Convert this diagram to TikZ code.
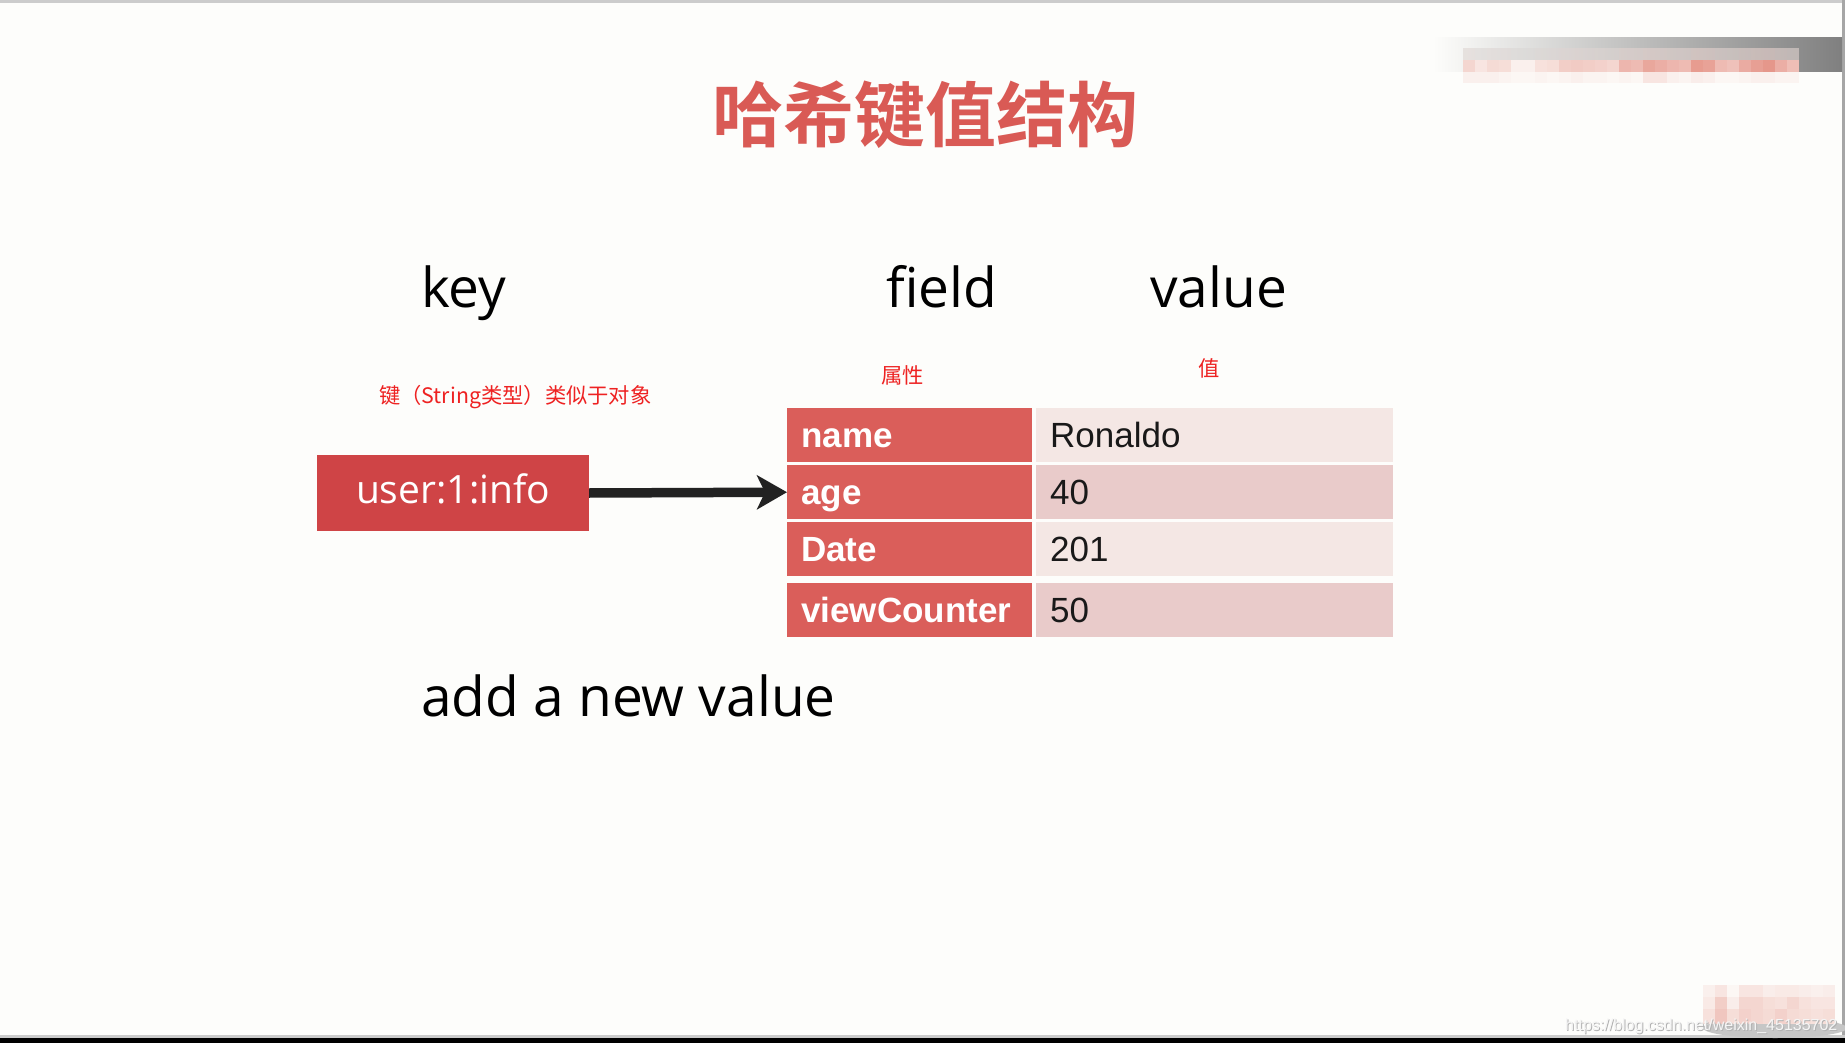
\documentclass[tikz,border=0pt]{standalone}
\usepackage{fontspec}
\setmainfont{Open Sans}
\newfontfamily\cjk{Noto Sans CJK SC}
\newfontfamily\cjkb{Noto Sans CJK SC Bold}
\newfontfamily\arialf{Liberation Sans}
\usetikzlibrary{arrows.meta}
\definecolor{bgc}{HTML}{FDFDFB}
\definecolor{titlered}{HTML}{D95A55}
\definecolor{keyred}{HTML}{CF4446}
\definecolor{fieldred}{HTML}{DA5E5A}
\definecolor{vallight}{HTML}{F4E7E4}
\definecolor{valdark}{HTML}{E9CBCA}
\definecolor{notered}{HTML}{EE2222}
\definecolor{arrowblack}{HTML}{222222}
\definecolor{pixred}{HTML}{D9604F}
\tikzset{
  heading/.style={anchor=base west, inner sep=0pt, font=\fontsize{55}{60}\selectfont, text=black},
  note/.style={anchor=west, inner sep=0pt, font=\cjk\fontsize{21.3}{24}\selectfont, text=notered},
  fieldcell/.style={anchor=north west, fill=fieldred, text=white, inner xsep=14pt, inner ysep=0pt,
    text height=25pt, text depth=0pt, align=left, text width=217pt, minimum height=54pt,
    font=\arialf\bfseries\fontsize{35}{40}\selectfont},
  valcell/.style={anchor=north west, text=black!90, inner xsep=14pt, inner ysep=0pt,
    text height=25pt, text depth=0pt, align=left, text width=329pt, minimum height=54pt,
    font=\arialf\fontsize{35}{40}\selectfont},
}
\begin{document}
\begin{tikzpicture}[x=1pt,y=-1pt]
\useasboundingbox (0,0) rectangle (1845,1043);
\fill[bgc] (0,0) rectangle (1845,1043);
% frame
\fill[gray!40] (0,0) rectangle (1845,3);
\fill[gray!70] (1842,0) rectangle (1845,1043);
\fill[gray!40] (0,1035) rectangle (1845,1038);
\fill[black] (0,1038) rectangle (1845,1043);
% top-right blurred watermark
\shade[left color=bgc, right color=black!50] (1433,38) rectangle (1842,72);
\foreach \i/\a/\b in {0/25/8,1/15/8,2/22/8,3/20/6,4/8/4,5/8/4,6/18/6,7/20/4,8/30/6,9/32/8,10/30/6,11/28/6,12/25/4,13/45/6,14/42/4,15/55/15,16/50/15,17/45/8,18/42/6,19/62/10,20/58/8,21/42/4,22/38/4,23/52/6,24/60/8,25/65/8,26/50/6,27/40/6}{
  \fill[pixred!\a!bgc] (1463+12*\i,60) rectangle (1475+12*\i,72);
  \fill[pixred!\b!bgc] (1463+12*\i,72) rectangle (1475+12*\i,83);
  \fill[pixred!\a!gray!30!bgc, opacity=0.6] (1463+12*\i,48) rectangle (1475+12*\i,60);
}
% bottom-right blurred watermark
\fill[gray!45] (1775,1028) ellipse [x radius=72pt, y radius=10pt];
\foreach \i/\a/\b/\c in {0/8/12/18,1/15/30/35,2/4/10/20,3/15/25/28,4/15/25/25,5/10/20/22,6/12/18/28,7/12/25/22,8/10/18/20,9/8/15/18,10/10/15/20}{
  \fill[pixred!\a!bgc] (1703+12*\i,985) rectangle (1715+12*\i,997);
  \fill[pixred!\b!bgc] (1703+12*\i,997) rectangle (1715+12*\i,1009);
  \fill[pixred!\c!bgc] (1703+12*\i,1009) rectangle (1715+12*\i,1024);
}
\node[anchor=base west, inner sep=0pt, font=\arialf\fontsize{16}{18}\selectfont, text=gray!60] (wmshadow) at (1566,1031) {https://blog.csdn.net/weixin\_45135702};
\node[anchor=base west, inner sep=0pt, font=\arialf\fontsize{16}{18}\selectfont, text=white!92!gray] (wm) at (1565,1030) {https://blog.csdn.net/weixin\_45135702};
% title
\node[inner sep=0pt, font=\cjkb\fontsize{71}{80}\selectfont, text=titlered] (title) at (925,115) {哈希键值结构};
% headings
\node[heading] (hkey) at (421,307) {key};
\node[heading] (hfield) at (886,307) {field};
\node[heading] (hvalue) at (1150,307) {value};
\node[heading] (hadd) at (421,716) {add a new value};
% red notes
\node[note] (nkey) at (379,397) {键（String类型）类似于对象};
\node[note] (nfield) at (881,375) {属性};
\node[note] (nvalue) at (1198,368) {值};
% key box
\node[fill=keyred, text=white, minimum width=272pt, minimum height=76pt, inner sep=0pt,
  text height=21pt, text depth=0pt, font=\fontsize{39}{42}\selectfont] (key) at (453,493) {user:1:info};
% table
\node[fieldcell] (f1) at (787,408) {name};
\node[fieldcell] (f2) at (787,465) {age};
\node[fieldcell] (f3) at (787,521.5) {Date};
\node[fieldcell, minimum height=54.5pt] (f4) at (787,582.5) {viewCounter};
\node[valcell, fill=vallight] (v1) at (1036,408) {Ronaldo};
\node[valcell, fill=valdark] (v2) at (1036,465) {40};
\node[valcell, fill=vallight] (v3) at (1036,521.5) {201};
\node[valcell, fill=valdark, minimum height=54.5pt] (v4) at (1036,582.5) {50};
% arrow
\draw[line width=9.5pt, arrowblack, -{Stealth[length=30pt, width=34pt, inset=8pt]}] (key.east) -- (f2.west);
\end{tikzpicture}
\end{document}
